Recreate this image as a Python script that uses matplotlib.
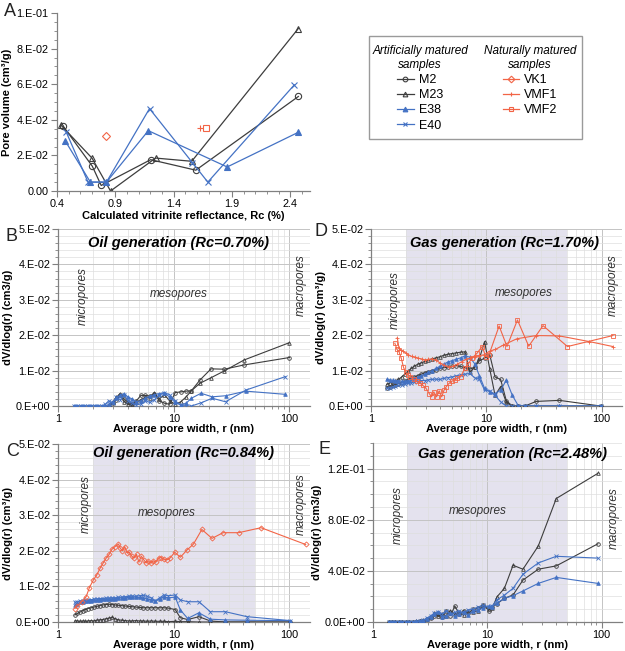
"""
Pore volume vs maturity (A) and pore size distributions at four maturity stages (B-E).
"""

import matplotlib
matplotlib.use('Agg')
from matplotlib import pyplot as plt
from matplotlib import patches, ticker

plt.rcParams['font.family'] = ['Liberation Sans', 'DejaVu Sans']

GREY = '#3d3d3d'
BLUE = '#4472c4'
RED = '#f26446'
SHADE = '#e4e2ee'

# ---------------- panel A : total pore volume vs Rc ----------------
rc_m2 = [0.452, 0.703, 0.779, 1.203, 1.59, 2.469]
pv_m2 = [0.0365, 0.0139, 0.0031, 0.0176, 0.0117, 0.0531]
rc_m23 = [0.434, 0.70, 0.859, 1.245, 1.555, 2.469]
pv_m23 = [0.037, 0.0185, 0.0, 0.0185, 0.0167, 0.0913]
rc_e38 = [0.469, 0.686, 0.824, 1.183, 1.859, 2.469]
pv_e38 = [0.0283, 0.005, 0.005, 0.0339, 0.0135, 0.033]
rc_e40 = [0.48, 0.666, 0.824, 1.193, 1.56, 1.693, 2.434]
pv_e40 = [0.033, 0.005, 0.005, 0.0463, 0.016, 0.005, 0.0596]
rc_vk1 = [0.824]
pv_vk1 = [0.0309]
rc_vmf1 = [1.624]
pv_vmf1 = [0.0352]
rc_vmf2 = [1.676]
pv_vmf2 = [0.0352]

a_xticks = [0.4, 0.9, 1.4, 1.9, 2.4]
a_yticks = [0.0, 0.02, 0.04, 0.06, 0.08, 0.1]
a_ylabels = ['0.00', '2.E-02', '4.E-02', '6.E-02', '8.E-02', '1.E-01']

# ---------------- panel B : oil generation Rc=0.70 ----------------
r_b_blue = [1.38, 1.47, 1.57, 1.68, 1.8, 1.93, 2.07, 2.22, 2.38, 2.56, 2.75, 2.96, 3.2,
            3.45, 3.73, 4.04, 4.38, 4.76, 5.2, 5.7, 6.2, 6.8, 7.5, 8.3, 9.2, 10.3,
            11.5, 12.8, 14.2, 17.2, 21.5, 28, 42, 92]
b_e38 = [0, 0, 0, 0, 0, 0, 0, 0, 0, 0,
         0.0005, 0.0012, 0.0022, 0.003, 0.0035, 0.0025, 0.002, 0.0012, 0.0015, 0.0022,
         0.0028, 0.0032, 0.0035, 0.0038, 0.0025, 0.001,
         0.0003, 0.0008, 0.0022, 0.0036, 0.0026, 0.0029, 0.0042, 0.0033]
b_e40 = [0, 0, 0, 0, 0, 0, 0, 0, 0,
         0.0005, 0.0015, 0.0008, 0.0025, 0.0018, 0.003, 0.0015, 0.0008, 0.0003, 0.0006,
         0.0015, 0.001, 0.0018, 0.003, 0.0038, 0.0032, 0.0015,
         0.0002, 0.0, 0.0, 0.0009, 0.0022, 0.0012, 0.0045, 0.0083]
r_b_black = [2.75, 2.96, 3.2, 3.45, 3.73, 4.04, 4.38, 4.76, 5.2, 5.7, 6.2, 6.8, 7.5, 8.3,
             9.2, 10.3, 11.5, 12.8, 14.2, 16.8, 21, 27.3, 40.5, 100]
b_m2 = [0.0, 0.0008, 0.0018, 0.003, 0.002, 0.001, 0.0006, 0.0015, 0.003, 0.003, 0.0028,
        0.0035, 0.0015, 0.0008, 0.0005, 0.0038, 0.004, 0.0042, 0.0043, 0.0073, 0.0105,
        0.0104, 0.0116, 0.0137]
b_m23 = [0.0003, 0.0012, 0.0025, 0.0035, 0.0012, 0.0005, 0.0002, 0.001, 0.0018, 0.0025,
         0.0022, 0.0038, 0.002, 0.0032, 0.0015, 0.0005, 0.0012, 0.0026, 0.0043, 0.0064,
         0.008, 0.0099, 0.013, 0.0179]

# ---------------- panel C : oil generation Rc=0.84 ----------------
r_c = [1.40, 1.47, 1.55, 1.63, 1.72, 1.82, 1.93, 2.04, 2.16, 2.29, 2.43, 2.58, 2.75,
       2.93, 3.12, 3.33, 3.56, 3.81, 4.08, 4.38, 4.7, 5.06, 5.46, 5.9, 6.4, 6.95, 7.56,
       8.2, 9.0, 10.3, 11.4, 13.2, 16.5, 20.7, 27.9, 43, 102]
c_e38 = [0.0048, 0.0052, 0.0055, 0.0057, 0.0058, 0.006, 0.006, 0.0061, 0.0062, 0.0063,
         0.0064, 0.0064, 0.0065, 0.0065, 0.0066, 0.0067, 0.0068, 0.0068, 0.0069, 0.007,
         0.007, 0.0069, 0.0068, 0.0065, 0.0062, 0.0058, 0.0065, 0.007, 0.0068, 0.007,
         0.0034, 0.001, 0.0026, 0.0008, 0.0006, 0.0005, 0.0004]
c_e40 = [0.0055, 0.0057, 0.0059, 0.006, 0.0061, 0.0062, 0.0063, 0.0064, 0.0065, 0.0066,
         0.0066, 0.0067, 0.0067, 0.0068, 0.0068, 0.0069, 0.007, 0.0071, 0.0072, 0.0073,
         0.0072, 0.0074, 0.0075, 0.0072, 0.0068, 0.006, 0.0068, 0.0076, 0.0074, 0.0076,
         0.0062, 0.0057, 0.0057, 0.0029, 0.0029, 0.0015, 0.0004]
c_m2 = [0.002, 0.0024, 0.0028, 0.0032, 0.0035, 0.0038, 0.004, 0.0042, 0.0044, 0.0046,
        0.0048, 0.0049, 0.005, 0.0049, 0.0048, 0.0047, 0.0046, 0.0045, 0.0044, 0.0043,
        0.0042, 0.0041, 0.004, 0.004, 0.004, 0.004, 0.004, 0.004, 0.0039, 0.0035,
        0.0012, 0.0007, 0.0015, 0.0003, 0.0, 0.0, 0.0]
c_m23 = [0.0003, 0.0003, 0.0002, 0.0003, 0.0002, 0.0003, 0.0004, 0.0003, 0.0005, 0.0006,
         0.0007, 0.0009, 0.0011, 0.0013, 0.0009, 0.0006, 0.0005, 0.0004, 0.0003, 0.0003,
         0.0004, 0.0003, 0.0003, 0.0002, 0.0003, 0.0002, 0.0002, 0.0002, 0.0001, 0.0002,
         0.0001, 0.0001, 0.0, 0.0, 0.0, 0.0, 0.0]
r_c_vk1 = [1.40, 1.47, 1.60, 1.75, 1.87, 2.02, 2.16, 2.31, 2.47, 2.60, 2.78, 2.92, 3.11,
           3.33, 3.44, 3.6, 3.77, 3.95, 4.14, 4.34, 4.55, 4.77, 5.0, 5.24, 5.5, 5.77, 6.05,
           6.35, 6.66, 7.0, 7.4, 7.8, 8.3, 8.8, 9.3, 10.2, 11.4, 13.0, 14.8, 17.5, 21.4,
           26.7, 36.4, 56.7, 137.6]
c_vk1 = [0.0038, 0.0045, 0.0057, 0.0071, 0.0097, 0.0118, 0.0132, 0.0151, 0.0167, 0.0179,
         0.0191, 0.0204, 0.0212, 0.0219, 0.0208, 0.02, 0.0212, 0.0195, 0.0196, 0.0185,
         0.018, 0.019, 0.0168, 0.0185, 0.0175, 0.0166, 0.0172, 0.0165, 0.0172, 0.0168,
         0.018, 0.0181, 0.0176, 0.0175, 0.018, 0.0196, 0.0182, 0.0202, 0.0219, 0.026,
         0.0235, 0.0251, 0.0251, 0.0265, 0.0218]

# ---------------- panel D : gas generation Rc=1.70 ----------------
r_d = [1.37, 1.45, 1.54, 1.63, 1.73, 1.84, 1.96, 2.09, 2.23, 2.38, 2.55, 2.73, 2.93,
       3.15, 3.39, 3.65, 3.94, 4.26, 4.62, 5.02, 5.47, 5.97, 6.54, 7.18, 7.9, 8.72, 9.65,
       10.7, 11.9, 13.3, 14.9, 16.8, 19, 21.6, 27, 43, 98]
d_m23 = [0.0061, 0.0065, 0.0068, 0.0072, 0.0075, 0.0082, 0.009, 0.0098, 0.0106, 0.0113,
         0.0118, 0.0122, 0.0126, 0.013, 0.0133, 0.0136, 0.0139, 0.0143, 0.0146, 0.0148,
         0.015, 0.0152, 0.0153, 0.0095, 0.011, 0.0135, 0.0182, 0.0105, 0.003, 0.0055,
         0.001, 0.0, 0.0, 0.0, 0.0, 0.0, 0.0]
d_m2 = [0.0052, 0.0055, 0.0058, 0.006, 0.0063, 0.0066, 0.007, 0.0074, 0.0078, 0.0082,
        0.0086, 0.009, 0.0094, 0.0097, 0.01, 0.0103, 0.0106, 0.0108, 0.011, 0.0112,
        0.0114, 0.0112, 0.0108, 0.0104, 0.011, 0.0128, 0.0135, 0.0145, 0.0082, 0.0075,
        0.0015, 0.0, 0.0, 0.0, 0.0013, 0.0016, 0.0]
d_e38 = [0.0075, 0.0074, 0.0073, 0.0072, 0.0071, 0.007, 0.007, 0.0072, 0.0075, 0.0078,
         0.0082, 0.0086, 0.009, 0.0095, 0.01, 0.0106, 0.0112, 0.0118, 0.0124, 0.0128,
         0.0132, 0.0136, 0.0142, 0.0138, 0.012, 0.0085, 0.005, 0.004, 0.0035, 0.0045,
         0.0073, 0.003, 0.0, 0.0, 0.0, 0.0, 0.0]
d_e40 = [0.005, 0.0052, 0.0054, 0.0056, 0.0058, 0.006, 0.0062, 0.0064, 0.0066, 0.0068,
         0.007, 0.0072, 0.0072, 0.0074, 0.0075, 0.0076, 0.0075, 0.0078, 0.008, 0.0082,
         0.0085, 0.0088, 0.009, 0.0092, 0.008, 0.0075, 0.0045, 0.0042, 0.003, 0.0012,
         0.0, 0.0, 0.0, 0.0, 0.0, 0.0, 0.0]
r_d_vmf1 = [1.69, 1.75, 1.82, 1.9, 2.0, 2.1, 2.25, 2.4, 2.57, 2.75, 2.95, 3.15, 3.4, 3.65,
            3.95, 4.3, 4.7, 5.1, 5.6, 6.1, 6.7, 7.2, 7.9, 8.7, 9.6, 10.7, 12, 14, 18.4,
            27, 43, 78, 125]
d_vmf1 = [0.0193, 0.0163, 0.0158, 0.0154, 0.015, 0.0145, 0.014, 0.0138, 0.0135, 0.0133,
          0.013, 0.0132, 0.0133, 0.013, 0.0122, 0.0115, 0.011, 0.0112, 0.0118, 0.0125,
          0.0132, 0.0135, 0.0139, 0.0142, 0.0145, 0.0155, 0.016, 0.0172, 0.019, 0.0199,
          0.0198, 0.0182, 0.0168]
r_d_vmf2 = [1.61, 1.68, 1.75, 1.83, 1.91, 2.0, 2.1, 2.2, 2.35, 2.5, 2.65, 2.8, 3.0, 3.2,
            3.35, 3.5, 3.7, 3.9, 4.1, 4.3, 4.5, 4.75, 5.0, 5.3, 5.6, 6.0, 6.5, 7.0, 7.5,
            8.3, 9.2, 9.9, 10.5, 12.9, 15.1, 18.6, 23.3, 31, 50.5, 125]
d_vmf2 = [0.0177, 0.016, 0.0153, 0.0135, 0.011, 0.0095, 0.0088, 0.0082, 0.0075, 0.007,
          0.0065, 0.0059, 0.005, 0.0035, 0.0026, 0.004, 0.0026, 0.0043, 0.0026, 0.0045,
          0.0055, 0.0064, 0.007, 0.0073, 0.0078, 0.0083, 0.0106, 0.012, 0.0135, 0.0149,
          0.0168, 0.0139, 0.0143, 0.0226, 0.0168, 0.0243, 0.0169, 0.0227, 0.0168, 0.0199]

# ---------------- panel E : gas generation Rc=2.48 ----------------
r_e = [1.38, 1.47, 1.57, 1.68, 1.8, 1.93, 2.07, 2.22, 2.38, 2.56, 2.75, 2.96, 3.2, 3.45,
       3.73, 4.04, 4.38, 4.76, 5.2, 5.7, 6.2, 6.8, 7.5, 8.3, 9.2, 10.3,
       11.0, 12.2, 14.1, 16.8, 20.5, 27.9, 40.1, 92.9]
e_m23 = [0, 0, 0, 0, 0, 0, 0, 0,
         0.0005, 0.001, 0.0015, 0.002, 0.004, 0.007, 0.0045, 0.006, 0.005, 0.009, 0.006,
         0.008, 0.0055, 0.0085, 0.0075, 0.009, 0.0125, 0.0105,
         0.0108, 0.0199, 0.0263, 0.0444, 0.0413, 0.0594, 0.0966, 0.1163]
e_m2 = [0, 0, 0, 0, 0, 0, 0, 0, 0,
        0.0005, 0.001, 0.002, 0.003, 0.0045, 0.006, 0.004, 0.0085, 0.005, 0.0125, 0.006,
        0.009, 0.007, 0.01, 0.011, 0.0135, 0.009,
        0.012, 0.0144, 0.0185, 0.0212, 0.0328, 0.0413, 0.0439, 0.0612]
e_e40 = [0, 0, 0, 0, 0, 0, 0, 0, 0,
         0.0008, 0.0015, 0.003, 0.005, 0.007, 0.008, 0.0065, 0.009, 0.006, 0.0075, 0.0085,
         0.007, 0.0095, 0.01, 0.0115, 0.013, 0.012,
         0.0125, 0.0175, 0.021, 0.0264, 0.0374, 0.0462, 0.0514, 0.050]
e_e38 = [0, 0, 0, 0, 0, 0, 0, 0,
         0.0005, 0.0008, 0.001, 0.0025, 0.004, 0.006, 0.0075, 0.004, 0.005, 0.007, 0.0045,
         0.0065, 0.008, 0.0055, 0.0085, 0.0095, 0.011, 0.0125,
         0.012, 0.015, 0.0185, 0.0206, 0.0243, 0.0302, 0.0349, 0.0302]

psd_yticks = [0.0, 0.01, 0.02, 0.03, 0.04, 0.05]
psd_ylabels = ['0.E+00', '1.E-02', '2.E-02', '3.E-02', '4.E-02', '5.E-02']
e_yticks = [0.0, 0.04, 0.08, 0.12]
e_ylabels = ['0.0E+00', '4.0E-02', '8.0E-02', '1.2E-01']

STYLE = {
    'M2': dict(color=GREY, marker='o', mfc='none'),
    'M23': dict(color=GREY, marker='^', mfc='none'),
    'E38': dict(color=BLUE, marker='^', mfc=BLUE),
    'E40': dict(color=BLUE, marker='x'),
    'VK1': dict(color=RED, marker='D', mfc='none'),
    'VMF1': dict(color=RED, marker='+'),
    'VMF2': dict(color=RED, marker='s', mfc='none'),
}

TICK_FS = 7.8
LABEL_FS = 8


def style_spines(ax):
    for side in ('top', 'right'):
        ax.spines[side].set_visible(False)
    for side in ('left', 'bottom'):
        ax.spines[side].set_color('#808080')
        ax.spines[side].set_linewidth(0.9)
    ax.tick_params(which='both', colors='#808080', labelcolor='black', labelsize=TICK_FS)


def plot_panel_a(ax):
    series = [('M2', rc_m2, pv_m2), ('M23', rc_m23, pv_m23), ('E38', rc_e38, pv_e38),
              ('E40', rc_e40, pv_e40), ('VK1', rc_vk1, pv_vk1), ('VMF1', rc_vmf1, pv_vmf1),
              ('VMF2', rc_vmf2, pv_vmf2)]
    handles = []
    for name, x, y in series:
        line, = ax.plot(x, y, label=name, lw=0.9, ms=4.5, mew=0.8, **STYLE[name])
        handles.append(line)
    ax.set_xlim(0.4, 2.57)
    ax.set_ylim(0, 0.1)
    ax.set_xticks(a_xticks)
    ax.set_yticks(a_yticks, labels=a_ylabels)
    ax.xaxis.set_minor_locator(ticker.MultipleLocator(0.1))
    ax.yaxis.set_minor_locator(ticker.MultipleLocator(0.005))
    ax.tick_params(which='major', length=4, pad=2)
    ax.tick_params(which='minor', length=2)
    style_spines(ax)
    ax.set_xlabel('Calculated vitrinite reflectance, Rc (%)', fontsize=LABEL_FS,
                  fontweight='bold', labelpad=1)
    ax.set_ylabel('Pore volume (cm³/g)', fontsize=LABEL_FS, fontweight='bold', labelpad=3)
    return handles


def plot_psd(ax, series, title, shade, ylim, yticks, ylabels, yminor, ylabel, text_pos):
    if shade:
        ax.axvspan(2, 50, color=SHADE, zorder=0, lw=0)
    for name, x, y in series:
        ax.plot(x, y, lw=0.8, ms=2.6, mew=0.6, zorder=3, **STYLE[name])

    ax.set_xscale('log')
    ax.set_xlim(1, 150)
    ax.set_ylim(*ylim)
    ax.xaxis.set_major_locator(ticker.LogLocator(base=10))
    ax.xaxis.set_minor_locator(ticker.LogLocator(base=10, subs=range(2, 10)))
    ax.xaxis.set_major_formatter(ticker.FuncFormatter(lambda v, p: f'{v:g}'))
    ax.xaxis.set_minor_formatter(ticker.NullFormatter())
    ax.set_yticks(yticks, labels=ylabels)
    ax.yaxis.set_minor_locator(ticker.MultipleLocator(yminor))

    ax.set_axisbelow(True)
    ax.grid(which='major', color='#c4c4c4', lw=0.7)
    ax.grid(which='minor', color='#dedede', lw=0.5)
    ax.tick_params(which='major', length=4, pad=1.5)
    ax.tick_params(which='minor', length=2)
    style_spines(ax)

    ax.set_xlabel('Average pore width, r (nm)', fontsize=LABEL_FS, fontweight='bold',
                  labelpad=0)
    ax.set_ylabel(ylabel, fontsize=LABEL_FS, fontweight='bold', labelpad=2)

    tx, ty, mi, me, ma = text_pos
    ax.text(tx, ty, title, transform=ax.transAxes, ha='center', va='center',
            fontsize=10.5, fontweight='bold', style='italic')
    ax.text(mi[0], mi[1], 'micropores', transform=ax.transAxes, rotation=90,
            ha='center', va='center', fontsize=8.5, style='italic', color='#333333')
    ax.text(me[0], me[1], 'mesopores', transform=ax.transAxes, ha='center', va='center',
            fontsize=8.5, style='italic', color='#333333')
    ax.text(ma[0], ma[1], 'macropores', transform=ax.transAxes, rotation=90,
            ha='center', va='center', fontsize=8.5, style='italic', color='#333333')


def add_legend(fig, handles):
    box = patches.Rectangle((369 / 625, 1 - 139 / 651), 213 / 625, 103 / 651,
                            transform=fig.transFigure, fill=False,
                            edgecolor='#9a9a9a', lw=1)
    fig.add_artist(box)
    common = dict(frameon=False, fontsize=9, handlelength=1.3, handletextpad=0.4,
                  labelspacing=0.25, borderpad=0, markerscale=0.75,
                  title_fontproperties={'style': 'italic', 'size': 8.5})
    for hs, x, title in [(handles[:4], 0.672, 'Artificially matured\nsamples'),
                         (handles[4:], 0.848, 'Naturally matured\nsamples')]:
        leg = fig.legend(handles=hs, loc='upper center', bbox_to_anchor=(x, 0.94),
                         title=title, **common)
        leg.get_title().set_multialignment('center')


def main():
    fig = plt.figure(figsize=(6.25, 6.51), dpi=100)

    ax_a = fig.add_axes([0.0912, 0.7066, 0.405, 0.2734])
    ax_b = fig.add_axes([0.0928, 0.3763, 0.403, 0.272])
    ax_d = fig.add_axes([0.5936, 0.3763, 0.4016, 0.272])
    ax_c = fig.add_axes([0.0928, 0.0445, 0.403, 0.2734])
    ax_e = fig.add_axes([0.5968, 0.0445, 0.398, 0.275])

    handles = plot_panel_a(ax_a)
    add_legend(fig, handles)

    plot_psd(ax_b, [('M2', r_b_black, b_m2), ('M23', r_b_black, b_m23),
                    ('E38', r_b_blue, b_e38), ('E40', r_b_blue, b_e40)],
             'Oil generation (Rc=0.70%)', False, (0, 0.05), psd_yticks, psd_ylabels,
             0.002, 'dV/dlog(r) (cm3/g)',
             (0.48, 0.92, (0.1, 0.62), (0.48, 0.63), (0.965, 0.68)))
    plot_psd(ax_c, [('M2', r_c, c_m2), ('M23', r_c, c_m23), ('E38', r_c, c_e38),
                    ('E40', r_c, c_e40), ('VK1', r_c_vk1, c_vk1)],
             'Oil generation (Rc=0.84%)', True, (0, 0.05), psd_yticks, psd_ylabels,
             0.002, 'dV/dlog(r) (cm³/g)',
             (0.5, 0.95, (0.11, 0.66), (0.43, 0.61), (0.965, 0.66)))
    plot_psd(ax_d, [('M2', r_d, d_m2), ('M23', r_d, d_m23), ('E38', r_d, d_e38),
                    ('E40', r_d, d_e40), ('VMF1', r_d_vmf1, d_vmf1),
                    ('VMF2', r_d_vmf2, d_vmf2)],
             'Gas generation (Rc=1.70%)', True, (0, 0.05), psd_yticks, psd_ylabels,
             0.002, 'dV/dlog(r) (cm³/g)',
             (0.53, 0.92, (0.096, 0.6), (0.61, 0.64), (0.965, 0.68)))
    plot_psd(ax_e, [('M2', r_e, e_m2), ('M23', r_e, e_m23), ('E38', r_e, e_e38),
                    ('E40', r_e, e_e40)],
             'Gas generation (Rc=2.48%)', True, (0, 0.14), e_yticks, e_ylabels,
             0.01, 'dV/dlog(r) (cm3/g)',
             (0.56, 0.94, (0.1, 0.6), (0.42, 0.62), (0.97, 0.58)))

    for letter, x, y in [('A', 4, 12), ('B', 6, 236), ('D', 314, 232), ('C', 6, 452),
                         ('E', 318, 450)]:
        fig.text(x / 625, 1 - y / 651, letter, fontsize=13, va='center', ha='left',
                 color='#222222')

    fig.savefig('out.png', dpi=100)


if __name__ == '__main__':
    main()
